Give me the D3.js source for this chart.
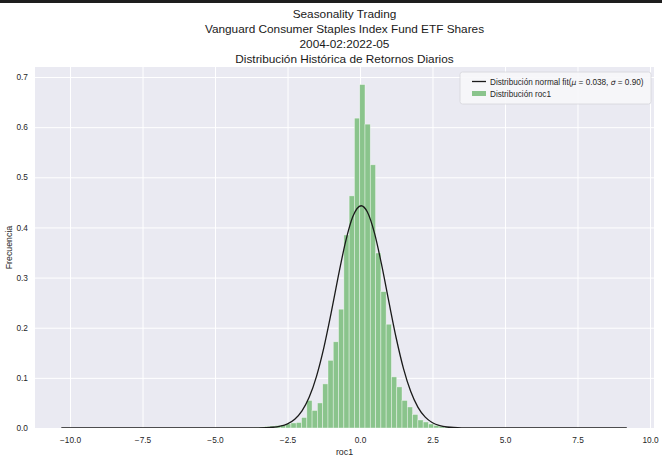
<!DOCTYPE html>
<html>
<head>
<meta charset="utf-8">
<script src="https://cdn.jsdelivr.net/npm/d3@7"></script>
<style>
  body { margin: 0; background: #ffffff; }
  text { font-family: "Liberation Sans", Arial, sans-serif; fill: #262626; }
</style>
</head>
<body>
<svg id="chart" width="662" height="461"></svg>
<script>
// ---------------- data ----------------
const titleLines = [
  "Seasonality Trading",
  "Vanguard Consumer Staples Index Fund ETF Shares",
  "2004-02:2022-05",
  "Distribución Histórica de Retornos Diarios"
];
const xLabel = "roc1";
const yLabel = "Frecuencia";
const xTicks = [-10, -7.5, -5, -2.5, 0, 2.5, 5, 7.5, 10];
const yTicks = [0, 0.1, 0.2, 0.3, 0.4, 0.5, 0.6, 0.7];

// histogram bin edges (daily return, %) and density per bin
const binEdges = [-3.658, -3.476, -3.293, -3.111, -2.928, -2.746, -2.564, -2.381, -2.199, -2.016,
  -1.834, -1.652, -1.469, -1.287, -1.104, -0.922, -0.740, -0.557, -0.375, -0.192,
  -0.010, 0.172, 0.355, 0.537, 0.720, 0.902, 1.084, 1.267, 1.449, 1.632,
  1.814, 1.996, 2.179, 2.361, 2.544, 2.726, 2.908, 3.091, 3.274];
const densities = [0.001, 0.002, 0.003, 0.004, 0.005, 0.006, 0.008, 0.010, 0.011, 0.021,
  0.055, 0.035, 0.050, 0.088, 0.135, 0.172, 0.237, 0.385, 0.463, 0.618,
  0.685, 0.606, 0.525, 0.349, 0.272, 0.207, 0.102, 0.082, 0.055, 0.042,
  0.027, 0.016, 0.012, 0.008, 0.005, 0.003, 0.002, 0.001];

// fitted normal curve (mu = 0.038, sigma = 0.90), sampled points
const fitX = [-10.3, -5, -4, -3.5, -3, -2.75, -2.5, -2.25, -2, -1.75, -1.5, -1.25, -1, -0.75, -0.5, -0.25,
  0.038, 0.25, 0.5, 0.75, 1, 1.25, 1.5, 1.75, 2, 2.25, 2.5, 2.75, 3, 3.5, 4, 5, 9.2];
const fitY = [0, 0, 0.00002, 0.0002, 0.0015, 0.0037, 0.0083, 0.0175, 0.0341, 0.0616, 0.1030, 0.1592, 0.2279, 0.3022, 0.3708, 0.4212,
  0.4433, 0.4312, 0.3886, 0.3242, 0.2504, 0.1790, 0.1185, 0.0726, 0.0412, 0.0216, 0.0105, 0.0047, 0.0020, 0.0003, 0.00003, 0, 0];

const legendFit = ["Distribución normal fit(", "μ", " = 0.038, ", "σ", " = 0.90)"];
const legendHist = "Distribución roc1";

// ---------------- layout ----------------
const svg = d3.select("#chart");
const W = 662, H = 461;
const plot = { left: 35, right: 654, top: 67, bottom: 428 };

svg.append("rect").attr("x", 0).attr("y", 0).attr("width", W).attr("height", H).attr("fill", "#ffffff");
svg.append("rect").attr("x", 0).attr("y", 0).attr("width", W).attr("height", 3).attr("fill", "#1e1e1e");

const x = d3.scaleLinear().domain([-11.207, 10.138]).range([plot.left, plot.right]);
const y = d3.scaleLinear().domain([0, 0.72]).range([plot.bottom, plot.top]);

// plot background
svg.append("rect")
  .attr("x", plot.left).attr("y", plot.top)
  .attr("width", plot.right - plot.left).attr("height", plot.bottom - plot.top)
  .attr("fill", "#EAEAF2");

svg.append("clipPath").attr("id", "clip")
  .append("rect")
  .attr("x", plot.left).attr("y", plot.top)
  .attr("width", plot.right - plot.left).attr("height", plot.bottom - plot.top);

// grid + axes
const fmtX = d3.format(".1f");
const fmtY = d3.format(".1f");

const xAxis = svg.append("g")
  .attr("transform", `translate(0,${plot.bottom})`)
  .call(d3.axisBottom(x).tickValues(xTicks).tickFormat(fmtX)
    .tickSize(-(plot.bottom - plot.top)).tickPadding(9));
xAxis.select(".domain").remove();
xAxis.selectAll("line").attr("stroke", "#ffffff").attr("stroke-width", 1);
xAxis.selectAll("text").attr("font-size", "8.3px").style("fill", "#262626");

const yAxis = svg.append("g")
  .attr("transform", `translate(${plot.left},0)`)
  .call(d3.axisLeft(y).tickValues(yTicks).tickFormat(fmtY)
    .tickSize(-(plot.right - plot.left)).tickPadding(7));
yAxis.select(".domain").remove();
yAxis.selectAll("line").attr("stroke", "#ffffff").attr("stroke-width", 1);
yAxis.selectAll("text").attr("font-size", "8.3px").style("fill", "#262626");

// histogram bars
const bins = densities.map((d, i) => ({ x0: binEdges[i], x1: binEdges[i + 1], d }));
svg.append("g").attr("clip-path", "url(#clip)")
  .selectAll("rect").data(bins).join("rect")
  .attr("x", b => x(b.x0))
  .attr("width", b => x(b.x1) - x(b.x0))
  .attr("y", b => y(b.d))
  .attr("height", b => y(0) - y(b.d))
  .attr("fill", "#8AC48C")
  .attr("stroke", "#ffffff")
  .attr("stroke-opacity", 0.55)
  .attr("stroke-width", 0.7);

// normal fit curve
const line = d3.line()
  .x((d, i) => x(fitX[i]))
  .y(d => y(d))
  .curve(d3.curveMonotoneX);
svg.append("path")
  .attr("clip-path", "url(#clip)")
  .attr("d", line(fitY))
  .attr("fill", "none")
  .attr("stroke", "#1a1a1a")
  .attr("stroke-width", 1.3);

// titles
const titleG = svg.append("g");
titleLines.forEach((t, i) => {
  titleG.append("text")
    .attr("x", (plot.left + plot.right) / 2)
    .attr("y", 18 + i * 15)
    .attr("text-anchor", "middle")
    .attr("font-size", "11.8px")
    .style("fill", "#1a1a1a")
    .text(t);
});

// axis labels
svg.append("text")
  .attr("x", (plot.left + plot.right) / 2)
  .attr("y", 455)
  .attr("text-anchor", "middle")
  .attr("font-size", "8.8px")
  .text(xLabel);
svg.append("text")
  .attr("transform", `translate(12,${(plot.top + plot.bottom) / 2}) rotate(-90)`)
  .attr("text-anchor", "middle")
  .attr("font-size", "8.8px")
  .text(yLabel);

// legend
const lg = svg.append("g");
lg.append("rect")
  .attr("x", 460).attr("y", 72).attr("width", 191).attr("height", 32)
  .attr("rx", 2.5)
  .attr("fill", "#F7F7FA").attr("fill-opacity", 0.9)
  .attr("stroke", "#D5D5DA").attr("stroke-width", 0.8);
lg.append("line")
  .attr("x1", 472).attr("x2", 486).attr("y1", 81.5).attr("y2", 81.5)
  .attr("stroke", "#1a1a1a").attr("stroke-width", 1.3);
lg.append("rect")
  .attr("x", 472).attr("y", 91).attr("width", 14).attr("height", 5)
  .attr("fill", "#8AC48C");
const t1 = lg.append("text").attr("x", 490).attr("y", 84.5).attr("font-size", "8.2px");
legendFit.forEach((s, i) => {
  t1.append("tspan").attr("font-style", (i === 1 || i === 3) ? "italic" : "normal")
    .attr("font-family", (i === 1 || i === 3) ? "DejaVu Sans" : null)
    .attr("font-size", (i === 1 || i === 3) ? "7.6px" : null)
    .text(s);
});
lg.append("text").attr("x", 490).attr("y", 97).attr("font-size", "8.2px").text(legendHist);
</script>
</body>
</html>
